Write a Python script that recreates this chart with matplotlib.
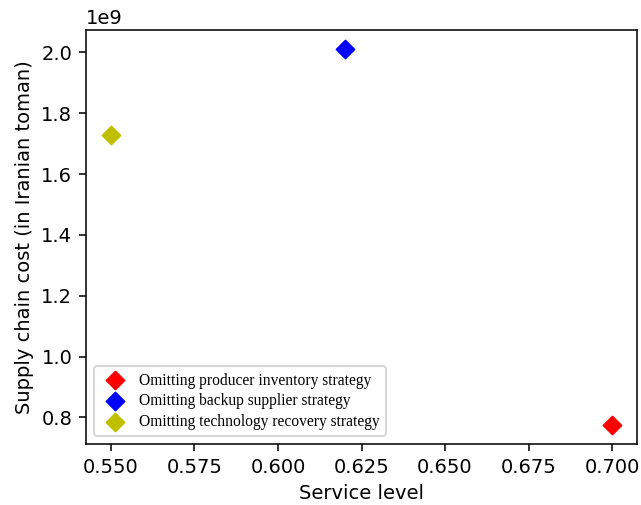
import matplotlib.pyplot as plt
from matplotlib.ticker import MultipleLocator

# data
labels = ['Omitting producer inventory strategy',
          'Omitting backup supplier strategy',
          'Omitting technology recovery strategy']
service = [0.70, 0.62, 0.55]
cost = [0.775e9, 2.012e9, 1.728e9]
colors = ['red', 'blue', 'y']

# drawn at a higher dpi so fonts and lines scale like the original
fig = plt.figure(figsize=(641 / 140, 505 / 140), dpi=140)
ax = fig.add_axes([0.134, 0.121, 0.860, 0.820])

for x, y, c, lab in zip(service, cost, colors, labels):
    ax.scatter(x, y, marker='D', s=42, color=c, label=lab)

ax.xaxis.set_major_locator(MultipleLocator(0.025))
ax.set_xlabel('Service level')
ax.set_ylabel('Supply chain cost (in Iranian toman)')

ax.legend(loc='lower left', prop={'family': 'Liberation Serif', 'size': 8},
          handletextpad=0.5, labelspacing=0.3)

fig.savefig('out.png', dpi=140)
